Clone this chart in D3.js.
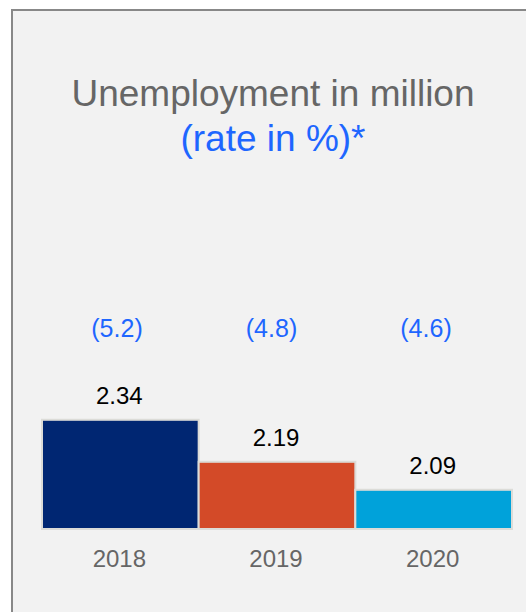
<!DOCTYPE html>
<html>
<head>
<meta charset="utf-8">
<script src="https://cdn.jsdelivr.net/npm/d3@7"></script>
<style>
  html, body { margin: 0; padding: 0; background: #ffffff; }
  svg { display: block; }
  text { font-family: "Liberation Sans", Arial, sans-serif; }
</style>
</head>
<body>
<svg id="chart" width="526" height="612"></svg>
<script>
// Unemployment in million, with the unemployment rate in % per year
const years = ["2018", "2019", "2020"];
const unemployed = [2.34, 2.19, 2.09];
const rates = ["5.2", "4.8", "4.6"];
const barColors = ["#002672", "#d34a28", "#00a2da"];

const svg = d3.select("#chart");
const W = 526, H = 612;

// Panel with a frame on the left and top
svg.append("rect")
  .attr("x", 12).attr("y", 10)
  .attr("width", W + 20).attr("height", H + 20)
  .attr("fill", "#f2f2f2")
  .attr("stroke", "#888888")
  .attr("stroke-width", 2);

// Title
const title = svg.append("text")
  .attr("text-anchor", "middle")
  .style("font-size", "37px");
title.append("tspan")
  .attr("x", 273).attr("y", 106)
  .attr("fill", "#666666")
  .text("Unemployment in million");
title.append("tspan")
  .attr("x", 273).attr("y", 151)
  .attr("fill", "#1e66ff")
  .text("(rate in %)*");

// Scales
const x = d3.scaleBand().domain(years).range([42, 512]).padding(0);
const y = d3.scaleLinear().domain([1.95, 2.5]).range([529, 375]);

// Bars
svg.append("g").selectAll("rect")
  .data(years)
  .join("rect")
  .attr("x", d => x(d))
  .attr("y", (d, i) => y(unemployed[i]))
  .attr("width", x.bandwidth())
  .attr("height", (d, i) => y.range()[0] - y(unemployed[i]))
  .attr("fill", (d, i) => barColors[i])
  .attr("stroke", "#dcdcd8")
  .attr("stroke-width", 2);

// Value labels above the bars
svg.append("g").selectAll("text")
  .data(years)
  .join("text")
  .attr("x", d => x(d) + x.bandwidth() / 2 - 1)
  .attr("y", (d, i) => y(unemployed[i]) - 16)
  .attr("text-anchor", "middle")
  .attr("fill", "#000000")
  .style("font-size", "24px")
  .text((d, i) => unemployed[i].toFixed(2));

// Rate labels in a row
const xr = d3.scalePoint().domain(years).range([117, 426]);
svg.append("g").selectAll("text")
  .data(years)
  .join("text")
  .attr("x", d => xr(d))
  .attr("y", 337)
  .attr("text-anchor", "middle")
  .attr("fill", "#1e66ff")
  .style("font-size", "25px")
  .text((d, i) => "(" + rates[i] + ")");

// Category axis
const axis = svg.append("g")
  .attr("transform", "translate(-1,530)")
  .call(d3.axisBottom(x).tickSize(0).tickPadding(20));
axis.select(".domain").remove();
axis.selectAll("text")
  .attr("fill", "#666666")
  .style("font-size", "24px")
  .style("font-family", "'Liberation Sans', Arial, sans-serif");
</script>
</body>
</html>
